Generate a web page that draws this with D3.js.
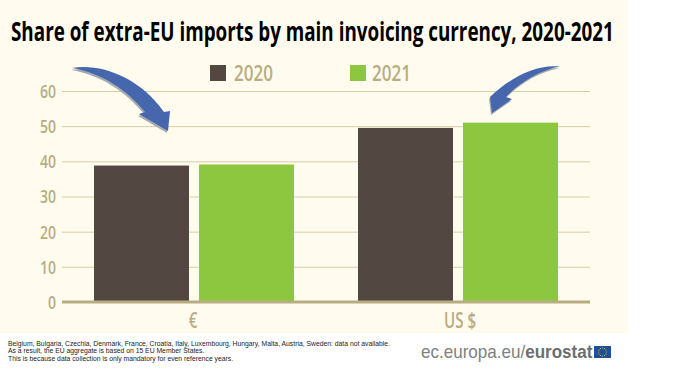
<!DOCTYPE html>
<html><head><meta charset="utf-8">
<script src="https://cdn.jsdelivr.net/npm/d3@7/dist/d3.min.js"></script>
<style>html,body{margin:0;padding:0;background:#fff}svg{display:block}</style>
</head><body><svg id="c" width="694" height="371"></svg>
<script>
const title = "Share of extra-EU imports by main invoicing currency, 2020-2021";
const categories = ["€", "US $"];
const seriesNames = ["2020", "2021"];
const values2020 = [38.8, 49.5];
const values2021 = [39.1, 51.0];
const yTicks = [0, 10, 20, 30, 40, 50, 60];
const notes = [
  "Belgium, Bulgaria, Czechia, Denmark, France, Croatia, Italy, Luxembourg, Hungary, Malta, Austria, Sweden: data not available.",
  "As a result, the EU aggregate is based on 15 EU Member States.",
  "This is because data collection is only mandatory for even reference years."
];
const colors = ["#534741", "#8dc63f"];
const tan = "#b8ad80";
const sans = "'Open Sans',sans-serif";
const lib = "'Liberation Sans',sans-serif";

const svg = d3.select("#c");
svg.append("rect").attr("width", 628).attr("height", 333).attr("fill", "#fffcef");

const y = d3.scaleLinear().domain([0, 60]).range([302, 91]);
const xCenters = {"€": 194, "US $": 458};
const barW = 95, off = [-100, 5];

// Horizontally condensed text: the source uses a condensed face not installed here.
function cond(sel, x, yy, sx, anchor) {
  sel.attr("text-anchor", anchor || "start").attr("transform", `translate(${x},${yy}) scale(${sx},1)`);
  return sel;
}

// title
const t = svg.append("text").text(title).attr("font-family", sans).attr("font-weight", 700)
  .attr("font-size", 26.5).attr("fill", "#000");
cond(t, 11, 41, 603 / t.node().getComputedTextLength());

// grid + y axis
const yAxis = d3.axisLeft(y).tickValues(yTicks).tickSize(-528).tickPadding(6);
const gy = svg.append("g").attr("transform", "translate(62,0)").call(yAxis);
gy.select(".domain").remove();
gy.selectAll(".tick line").attr("stroke", "#d6cea4").attr("stroke-width", 1);
gy.selectAll(".tick text").attr("font-family", sans).attr("font-size", 18).attr("fill", tan)
  .attr("font-weight", 600).attr("text-anchor", "end").attr("dy", "0.36em")
  .attr("transform", "scale(0.78,1)").attr("x", -6 / 0.78);

// bars
[values2020, values2021].forEach((vals, s) => {
  svg.append("g").selectAll("rect").data(vals).join("rect")
    .attr("x", (d, i) => xCenters[categories[i]] + off[s])
    .attr("width", barW)
    .attr("y", d => y(d))
    .attr("height", d => y(0) - y(d))
    .attr("fill", colors[s]);
});

// baseline
svg.append("line").attr("x1", 62).attr("x2", 590).attr("y1", y(0)).attr("y2", y(0))
  .attr("stroke", tan).attr("stroke-width", 3);

// category labels
const catX = {"€": 193, "US $": 460};
categories.forEach(c => {
  const e = svg.append("text").text(c).attr("font-family", sans).attr("font-weight", 600)
    .attr("font-size", 21).attr("fill", tan);
  cond(e, catX[c], 328, 0.72, "middle");
});

// legend
const legX = [210, 350], legT = [234, 372];
seriesNames.forEach((n, i) => {
  svg.append("rect").attr("x", legX[i]).attr("y", 65).attr("width", 16).attr("height", 16).attr("fill", colors[i]);
  const e = svg.append("text").text(n).attr("font-family", sans).attr("font-weight", 600)
    .attr("font-size", 21).attr("fill", tan);
  cond(e, legT[i], 81, 39 / e.node().getComputedTextLength());
});

// arrows
const arrow1 = "M72,68 C102,63 140,78 164,112 L170,111 L168,131 L139,114 L145,112 C127,90 102,73 72,68 Z";
const arrow2 = "M560,66.5 C535,64 510,78 490,97 L492,113 L512,99 L506,97 C520,82 540,70 560,66.5 Z";
[arrow1, arrow2].forEach(p => {
  svg.append("path").attr("d", p).attr("fill", "#a6abad").attr("transform", "translate(-1,2)");
  svg.append("path").attr("d", p).attr("fill", "#4667ae");
});

// notes
const noteEls = svg.append("g").selectAll("text").data(notes).join("text")
  .text(d => d).attr("font-family", lib).attr("font-size", 6.5).attr("fill", "#222");
const noteScale = 383 / noteEls.nodes()[0].getComputedTextLength();
noteEls.attr("transform", (d, i) => `translate(8,${345.5 + i * 7.6}) scale(${noteScale},1)`);

// brand
const brand = svg.append("text").attr("font-family", lib)
  .attr("font-size", 17.5).attr("fill", "#808080");
brand.append("tspan").text("ec.europa.eu/");
brand.append("tspan").text("eurostat").attr("font-weight", 700).attr("fill", "#6d6e71");
cond(brand, 421, 358, 171.5 / brand.node().getComputedTextLength());

// flag
svg.append("rect").attr("x", 594).attr("y", 346).attr("width", 17).attr("height", 12).attr("fill", "#1f4e9e");
const flagStars = d3.range(12);
svg.append("g").selectAll("circle").data(flagStars).join("circle")
  .attr("cx", d => 602.5 + 4 * Math.cos(d * Math.PI / 6))
  .attr("cy", d => 352 + 4 * Math.sin(d * Math.PI / 6))
  .attr("r", 0.5).attr("fill", "#ffd617");
</script></body></html>
